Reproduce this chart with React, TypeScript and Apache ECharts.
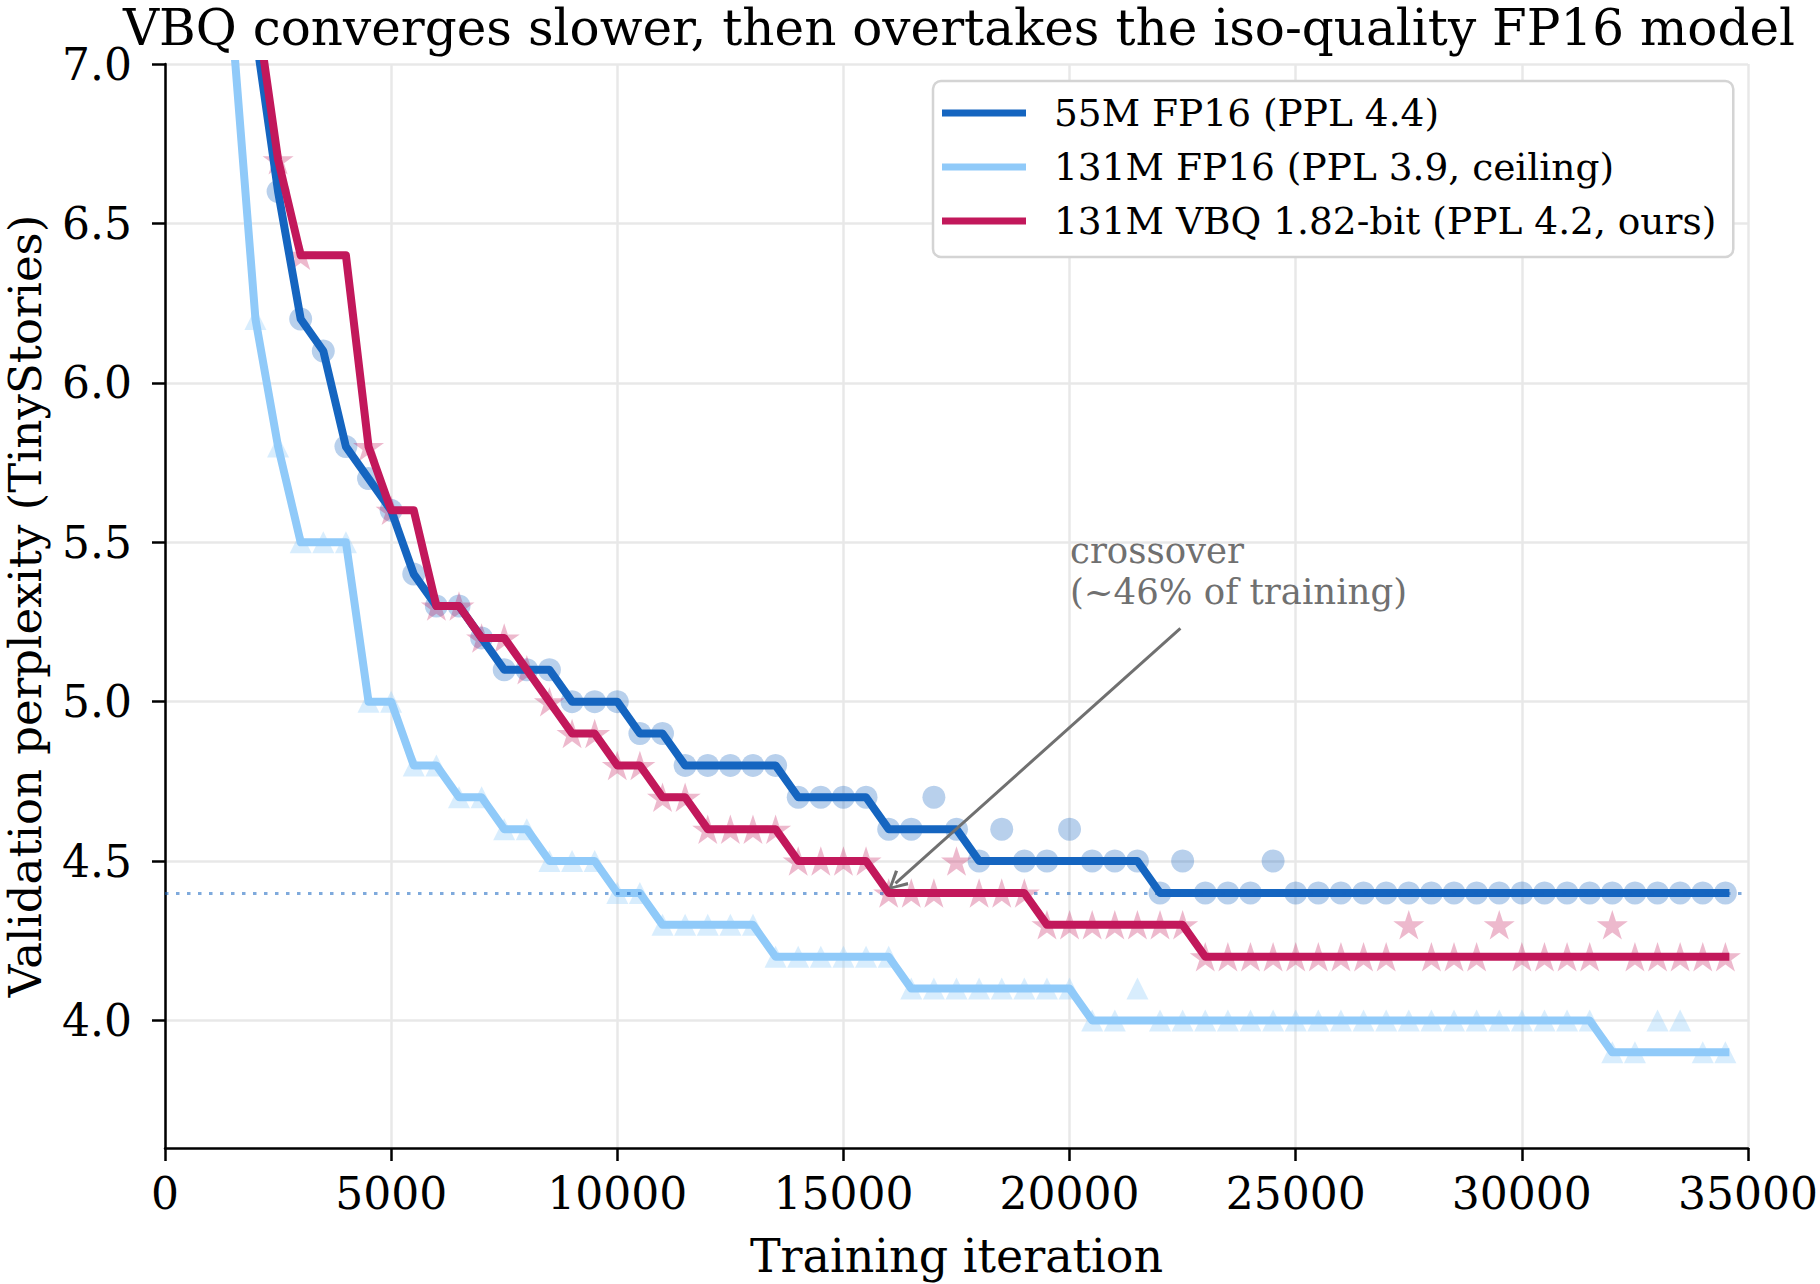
import React, { useEffect, useRef } from "react";
import * as echarts from "echarts";

// Evaluation checkpoints (training iterations)
const iterations = [
  1500, 2000, 2500, 3000, 3500, 4000, 4500, 5000, 5500, 6000,
  6500, 7000, 7500, 8000, 8500, 9000, 9500, 10000, 10500, 11000,
  11500, 12000, 12500, 13000, 13500, 14000, 14500, 15000, 15500, 16000,
  16500, 17000, 17500, 18000, 18500, 19000, 19500, 20000, 20500, 21000,
  21500, 22000, 22500, 23000, 23500, 24000, 24500, 25000, 25500, 26000,
  26500, 27000, 27500, 28000, 28500, 29000, 29500, 30000, 30500, 31000,
  31500, 32000, 32500, 33000, 33500, 34000, 34500,
];

// 55M FP16: best-so-far validation perplexity and raw evaluations
const fp16SmallBest = [
  null, 7.1, 6.6, 6.2, 6.1, 5.8, 5.7, 5.6, 5.4, 5.3,
  5.3, 5.2, 5.1, 5.1, 5.1, 5.0, 5.0, 5.0, 4.9, 4.9,
  4.8, 4.8, 4.8, 4.8, 4.8, 4.7, 4.7, 4.7, 4.7, 4.6,
  4.6, 4.6, 4.6, 4.5, 4.5, 4.5, 4.5, 4.5, 4.5, 4.5,
  4.5, 4.4, 4.4, 4.4, 4.4, 4.4, 4.4, 4.4, 4.4, 4.4,
  4.4, 4.4, 4.4, 4.4, 4.4, 4.4, 4.4, 4.4, 4.4, 4.4,
  4.4, 4.4, 4.4, 4.4, 4.4, 4.4, 4.4,
];
const fp16SmallEval = [
  null, 7.1, 6.6, 6.2, 6.1, 5.8, 5.7, 5.6, 5.4, 5.3,
  5.3, 5.2, 5.1, 5.1, 5.1, 5.0, 5.0, 5.0, 4.9, 4.9,
  4.8, 4.8, 4.8, 4.8, 4.8, 4.7, 4.7, 4.7, 4.7, 4.6,
  4.6, 4.7, 4.6, 4.5, 4.6, 4.5, 4.5, 4.6, 4.5, 4.5,
  4.5, 4.4, 4.5, 4.4, 4.4, 4.4, 4.5, 4.4, 4.4, 4.4,
  4.4, 4.4, 4.4, 4.4, 4.4, 4.4, 4.4, 4.4, 4.4, 4.4,
  4.4, 4.4, 4.4, 4.4, 4.4, 4.4, 4.4,
];

// 131M FP16
const fp16LargeBest = [
  7.1, 6.2, 5.8, 5.5, 5.5, 5.5, 5.0, 5.0, 4.8, 4.8,
  4.7, 4.7, 4.6, 4.6, 4.5, 4.5, 4.5, 4.4, 4.4, 4.3,
  4.3, 4.3, 4.3, 4.3, 4.2, 4.2, 4.2, 4.2, 4.2, 4.2,
  4.1, 4.1, 4.1, 4.1, 4.1, 4.1, 4.1, 4.1, 4.0, 4.0,
  4.0, 4.0, 4.0, 4.0, 4.0, 4.0, 4.0, 4.0, 4.0, 4.0,
  4.0, 4.0, 4.0, 4.0, 4.0, 4.0, 4.0, 4.0, 4.0, 4.0,
  4.0, 3.9, 3.9, 3.9, 3.9, 3.9, 3.9,
];
const fp16LargeEval = [
  7.1, 6.2, 5.8, 5.5, 5.5, 5.5, 5.0, 5.0, 4.8, 4.8,
  4.7, 4.7, 4.6, 4.6, 4.5, 4.5, 4.5, 4.4, 4.4, 4.3,
  4.3, 4.3, 4.3, 4.3, 4.2, 4.2, 4.2, 4.2, 4.2, 4.2,
  4.1, 4.1, 4.1, 4.1, 4.1, 4.1, 4.1, 4.1, 4.0, 4.0,
  4.1, 4.0, 4.0, 4.0, 4.0, 4.0, 4.0, 4.0, 4.0, 4.0,
  4.0, 4.0, 4.0, 4.0, 4.0, 4.0, 4.0, 4.0, 4.0, 4.0,
  4.0, 3.9, 3.9, 4.0, 4.0, 3.9, 3.9,
];

// 131M VBQ 1.82-bit
const vbqBest = [
  null, 7.2, 6.7, 6.4, 6.4, 6.4, 5.8, 5.6, 5.6, 5.3,
  5.3, 5.2, 5.2, 5.1, 5.0, 4.9, 4.9, 4.8, 4.8, 4.7,
  4.7, 4.6, 4.6, 4.6, 4.6, 4.5, 4.5, 4.5, 4.5, 4.4,
  4.4, 4.4, 4.4, 4.4, 4.4, 4.4, 4.3, 4.3, 4.3, 4.3,
  4.3, 4.3, 4.3, 4.2, 4.2, 4.2, 4.2, 4.2, 4.2, 4.2,
  4.2, 4.2, 4.2, 4.2, 4.2, 4.2, 4.2, 4.2, 4.2, 4.2,
  4.2, 4.2, 4.2, 4.2, 4.2, 4.2, 4.2,
];
const vbqEval = [
  null, 7.2, 6.7, 6.4, null, null, 5.8, 5.6, null, 5.3,
  5.3, 5.2, 5.2, 5.1, 5.0, 4.9, 4.9, 4.8, 4.8, 4.7,
  4.7, 4.6, 4.6, 4.6, 4.6, 4.5, 4.5, 4.5, 4.5, 4.4,
  4.4, 4.4, 4.5, 4.4, 4.4, 4.4, 4.3, 4.3, 4.3, 4.3,
  4.3, 4.3, 4.3, 4.2, 4.2, 4.2, 4.2, 4.2, 4.2, 4.2,
  4.2, 4.2, 4.3, 4.2, 4.2, 4.2, 4.3, 4.2, 4.2, 4.2,
  4.2, 4.3, 4.2, 4.2, 4.2, 4.2, 4.2,
];

const seriesNames = [
  "55M FP16 (PPL 4.4)",
  "131M FP16 (PPL 3.9, ceiling)",
  "131M VBQ 1.82-bit (PPL 4.2, ours)",
];
const yTicks = [4.0, 4.5, 5.0, 5.5, 6.0, 6.5, 7.0];
const targetPPL = 4.4;

const titleText =
  "VBQ converges slower, then overtakes the iso-quality FP16 model";

const FONT = "DejaVu Serif";
const DARK_BLUE = "#1565C0";
const LIGHT_BLUE = "#90CAF9";
const CRIMSON = "#C2185B";

const STAR =
  "path://M50,0L61.23,34.55L97.55,34.55L68.17,55.9L79.39,90.45L50,69.1L20.61,90.45L31.83,55.9L2.45,34.55L38.77,34.55Z";
const OPEN_ARROW =
  "path://M0,10L5,0L10,10L8.6,10.9L5,3.2L1.4,10.9Z";

const pairs = (vals: (number | null)[]) =>
  iterations.map((x, i) => [x, vals[i]]).filter((p) => p[1] !== null);

const lineSeries = (name: string, vals: (number | null)[], color: string, z: number) => ({
  name,
  type: "line",
  data: iterations.map((x, i) => [x, vals[i]]),
  showSymbol: false,
  symbol: "none",
  connectNulls: false,
  clip: true,
  z,
  lineStyle: { color, width: 8, join: "round", cap: "square" },
  itemStyle: { color },
  emphasis: { disabled: true },
});

const scatterSeries = (
  id: string,
  vals: (number | null)[],
  color: string,
  symbol: string,
  size: number | number[],
  opacity: number
) => ({
  name: id,
  type: "scatter",
  data: pairs(vals),
  symbol,
  symbolSize: size,
  clip: true,
  z: 1,
  itemStyle: { color, opacity },
  emphasis: { disabled: true },
});

export default function App() {
  const ref = useRef<HTMLDivElement>(null);

  useEffect(() => {
    if (!ref.current) return;
    const chart = echarts.init(ref.current, undefined, { renderer: "svg" });

    chart.setOption({
      animation: false,
      backgroundColor: "#ffffff",
      textStyle: { fontFamily: FONT },
      title: {
        text: titleText,
        left: 954,
        top: -2,
        textAlign: "center",
        textStyle: { fontFamily: FONT, fontSize: 50, fontWeight: "normal", color: "#000" },
      },
      grid: {
        left: 165,
        right: 72,
        top: 64,
        bottom: 136,
        containLabel: false,
        outerBoundsMode: "none",
      },
      legend: {
        data: seriesNames,
        orient: "vertical",
        left: 933,
        top: 81,
        selectedMode: false,
        backgroundColor: "#ffffff",
        borderColor: "#d4d4d4",
        borderWidth: 2.5,
        borderRadius: 8,
        padding: [9, 17, 13, 9],
        itemGap: 8,
        itemWidth: 84,
        itemHeight: 7,
        icon: "rect",
        textStyle: {
          fontFamily: FONT,
          fontSize: 37.5,
          lineHeight: 46,
          color: "#000",
          padding: [0, 0, 0, 23],
        },
      },
      xAxis: {
        type: "value",
        min: 0,
        max: 35000,
        interval: 5000,
        name: "Training iteration",
        nameLocation: "middle",
        nameGap: 85,
        nameTextStyle: { fontFamily: FONT, fontSize: 46, color: "#000" },
        axisLine: { lineStyle: { color: "#000", width: 2.5 } },
        axisTick: { length: 13, lineStyle: { color: "#000", width: 2.5 } },
        axisLabel: {
          fontFamily: FONT,
          fontSize: 44,
          color: "#000",
          margin: 23,
          formatter: (v: number) => String(v),
        },
        splitLine: { show: true, lineStyle: { color: "#e8e8e8", width: 2.5 } },
      },
      yAxis: {
        type: "value",
        min: 3.6,
        max: 7.0,
        name: "Validation perplexity (TinyStories)",
        nameLocation: "middle",
        nameRotate: 90,
        nameGap: 117,
        nameTextStyle: { fontFamily: FONT, fontSize: 45, color: "#000" },
        axisLine: { show: true, lineStyle: { color: "#000", width: 2.5 } },
        axisTick: {
          show: true,
          length: 13,
          customValues: yTicks,
          lineStyle: { color: "#000", width: 2.5 },
        },
        axisLabel: {
          fontFamily: FONT,
          fontSize: 44,
          color: "#000",
          margin: 33,
          customValues: yTicks,
          formatter: (v: number) => v.toFixed(1),
        },
        splitLine: { show: true, lineStyle: { color: "#e8e8e8", width: 2.5 } },
      },
      graphic: [
        {
          type: "text",
          left: 1070,
          top: 530,
          z: 10,
          style: {
            text: "crossover\n(~46% of training)",
            fontFamily: FONT,
            fontSize: 35.5,
            lineHeight: 41,
            fill: "#707070",
          },
        },
      ],
      series: [
        scatterSeries("fp16-131m-evals", fp16LargeEval, LIGHT_BLUE, "triangle", 22, 0.35),
        scatterSeries("fp16-55m-evals", fp16SmallEval, DARK_BLUE, "circle", 23, 0.3),
        scatterSeries("vbq-evals", vbqEval, CRIMSON, STAR, [31, 29.5], 0.3),
        {
          name: "target",
          type: "line",
          data: [],
          z: 2,
          markLine: {
            silent: true,
            symbol: "none",
            label: { show: false },
            lineStyle: { color: "rgba(21,101,192,0.55)", width: 3, type: [3.5, 7.5], cap: "butt" },
            data: [{ yAxis: targetPPL }],
          },
        },
        lineSeries(seriesNames[1], fp16LargeBest, LIGHT_BLUE, 3),
        lineSeries(seriesNames[0], fp16SmallBest, DARK_BLUE, 4),
        lineSeries(seriesNames[2], vbqBest, CRIMSON, 5),
        {
          name: "crossover-arrow",
          type: "line",
          data: [],
          z: 6,
          markLine: {
            silent: true,
            symbol: ["none", OPEN_ARROW],
            symbolSize: [20, 20],
            label: { show: false },
            lineStyle: { color: "#707070", width: 3, type: "solid" },
            data: [[{ coord: [22450, 5.23] }, { coord: [16150, 4.43] }]],
          },
        },
      ],
    });

    return () => chart.dispose();
  }, []);

  return (
    <div
      ref={ref}
      style={{ position: "fixed", left: 0, top: 0, width: 1820, height: 1284 }}
    />
  );
}
